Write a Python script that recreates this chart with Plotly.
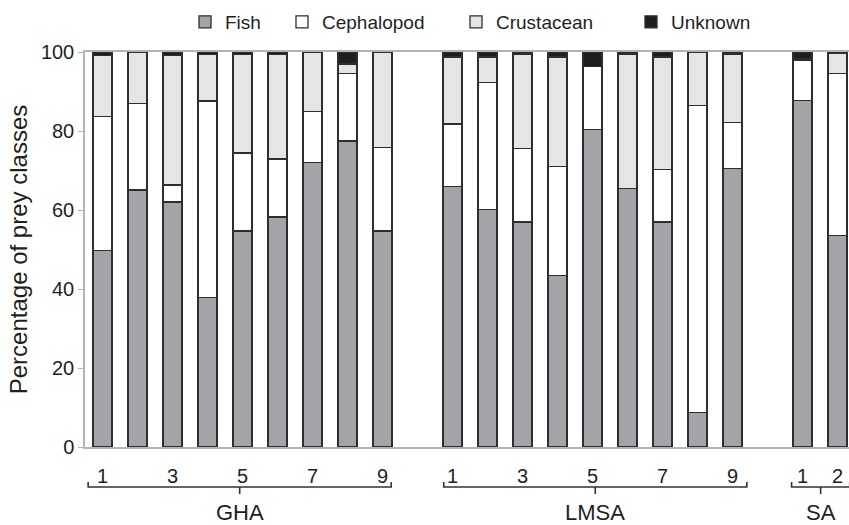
import plotly.graph_objects as go

# ---- data ----
groups = ["GHA", "LMSA", "SA"]
sites = [
    ["1", "2", "3", "4", "5", "6", "7", "8", "9"],
    ["1", "2", "3", "4", "5", "6", "7", "8", "9"],
    ["1", "2"],
]
tick_sites = [["1", "3", "5", "7", "9"], ["1", "3", "5", "7", "9"], ["1", "2"]]

fish = [49.8, 65.1, 62.0, 37.8, 54.7, 58.2, 72.1, 77.5, 54.7,
        65.9, 60.1, 57.0, 43.5, 80.3, 65.5, 57.0, 8.7, 70.5,
        87.8, 53.5]
cephalopod = [33.9, 21.8, 4.3, 49.8, 19.7, 14.7, 12.8, 17.0, 21.2,
              15.9, 32.1, 18.6, 27.5, 16.0, 0.0, 13.2, 77.7, 11.7,
              10.2, 41.1]
crustacean = [15.4, 13.1, 32.8, 11.8, 25.0, 26.5, 15.1, 2.5, 24.1,
              16.9, 6.5, 23.9, 27.7, 0.0, 34.0, 28.5, 13.6, 17.3,
              0.4, 5.0]
unknown = [0.9, 0.0, 0.9, 0.6, 0.6, 0.6, 0.0, 3.0, 0.0,
           1.3, 1.3, 0.5, 1.3, 3.7, 0.5, 1.3, 0.0, 0.5,
           1.6, 0.4]

series_names = ["Fish", "Cephalopod", "Crustacean", "Unknown"]
series_values = [fish, cephalopod, crustacean, unknown]

# ---- style ----
colors = ["#a4a3a8", "#ffffff", "#e4e5e7", "#1e1e21"]
outline = "#2e2e30"
axis_grey = "#b4b4b6"
text_col = "#1f1f1f"
font_family = "Liberation Sans, Arial, Helvetica, sans-serif"
group_gap = 1  # empty slots between groups
bracket_pad = 0.33
bracket_shift = [-0.08, 0.08, 0.02]
legend_ids = ["legend", "legend2", "legend3", "legend4"]
legend_left_px = [185, 282, 456, 631]  # left edge of each legend entry (pixels)
plot_left_px, plot_width_px = 85, 764

# positions along the x axis computed from the group structure
xpos, tickvals, ticktext, group_first, group_last = [], [], [], [], []
start = 0
for g, s in enumerate(sites):
    pos = [start + i for i in range(len(s))]
    xpos += pos
    group_first.append(pos[0])
    group_last.append(pos[-1])
    for lab in tick_sites[g]:
        tickvals.append(pos[s.index(lab)])
        ticktext.append(lab)
    start = pos[-1] + 1 + group_gap

fig = go.Figure()
for name, vals, col, lid in zip(series_names, series_values, colors, legend_ids):
    fig.add_trace(go.Bar(
        x=xpos, y=vals, name=name, width=0.54, legend=lid,
        marker=dict(color=col, line=dict(color=outline, width=1.3)),
    ))

# brackets and group labels
y_line, y_end, y_down, y_lab = -0.1013, -0.0886, -0.119, -0.166
for g, name in enumerate(groups):
    mid = (group_first[g] + group_last[g]) / 2 + bracket_shift[g]
    half = (group_last[g] - group_first[g]) / 2 + bracket_pad
    x0, x1 = mid - half, mid + half
    path = (f"M {x0},{y_end} L {x0},{y_line} L {x1},{y_line} L {x1},{y_end} "
            f"M {mid},{y_line} L {mid},{y_down}")
    fig.add_shape(type="path", path=path, xref="x", yref="paper",
                  line=dict(color="#333333", width=1.6))
    fig.add_annotation(x=mid, y=y_lab, xref="x", yref="paper", text=name,
                       showarrow=False, yanchor="middle", xanchor="center",
                       font=dict(size=22, color=text_col, family=font_family))

legend_common = dict(orientation="h", y=1.076, yanchor="middle",
                     xanchor="left", bgcolor="rgba(0,0,0,0)",
                     itemclick=False, itemdoubleclick=False,
                     font=dict(size=19, color=text_col, family=font_family))
legends = {}
for lid, px in zip(legend_ids, legend_left_px):
    legends[lid] = dict(legend_common, x=(px - plot_left_px) / plot_width_px)

fig.update_layout(
    width=849, height=525,
    margin=dict(l=85, r=0, t=52, b=78, autoexpand=False),
    barmode="stack",
    plot_bgcolor="white", paper_bgcolor="white",
    font=dict(family=font_family, color=text_col, size=20),
    showlegend=True,
    **legends,
)
fig.update_xaxes(
    range=[-0.5, 21.33], tickvals=tickvals, ticktext=ticktext,
    showline=True, linecolor=axis_grey, linewidth=1.5, mirror=True,
    ticks="", showgrid=False, zeroline=False, ticklabelstandoff=10,
    tickfont=dict(size=20, color=text_col),
)
fig.update_yaxes(
    range=[0, 100], tickvals=[0, 20, 40, 60, 80, 100],
    showline=True, linecolor=axis_grey, linewidth=1.5,
    ticks="outside", ticklen=5, tickcolor=axis_grey, tickwidth=1.2,
    showgrid=False, zeroline=False,
    tickfont=dict(size=20, color=text_col),
    title=dict(text="Percentage of prey classes", standoff=6,
               font=dict(size=24, color=text_col)),
)

fig.write_html("out.html")
